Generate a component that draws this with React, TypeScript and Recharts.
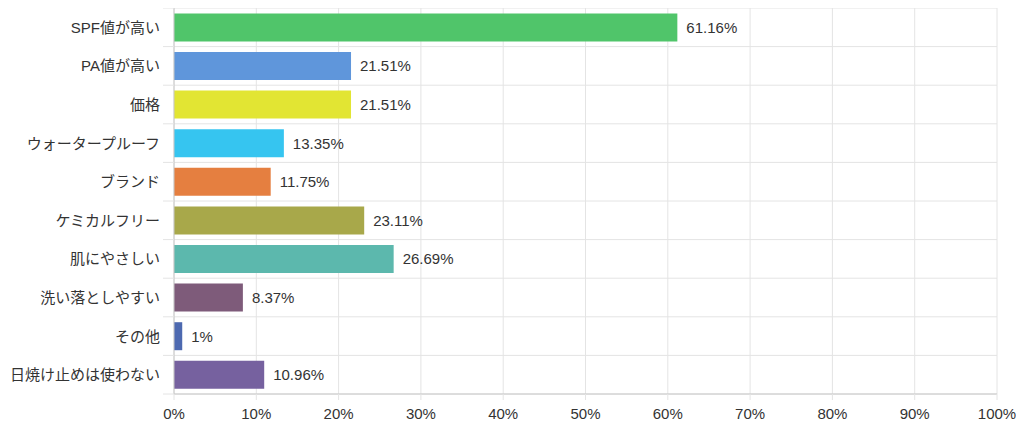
import React from 'react';
import { BarChart, Bar, XAxis, YAxis, CartesianGrid, Cell, LabelList } from 'recharts';

const categories = [
  'SPF値が高い',
  'PA値が高い',
  '価格',
  'ウォータープルーフ',
  'ブランド',
  'ケミカルフリー',
  '肌にやさしい',
  '洗い落としやすい',
  'その他',
  '日焼け止めは使わない',
];
const values = [61.16, 21.51, 21.51, 13.35, 11.75, 23.11, 26.69, 8.37, 1, 10.96];
const colors = [
  '#50c56a',
  '#5f96db',
  '#e2e533',
  '#36c5f0',
  '#e57f40',
  '#a8a84a',
  '#5cb8ad',
  '#7e5b7a',
  '#4d69b0',
  '#76619f',
];
const xTicks = [0, 10, 20, 30, 40, 50, 60, 70, 80, 90, 100];

const data = categories.map((name, i) => ({ name, value: values[i] }));

const W = 1024;
const H = 430;
const MARGIN = { top: 8, right: 27, bottom: 0, left: 0 };
const YAXIS_W = 174;
const XAXIS_H = 36;
const FONT = '"Liberation Sans", Arial, "Noto Sans CJK JP", sans-serif';
const GRID = '#e4e4e4';
const AXIS = '#c8c8c8';
const TEXT = '#333';
const FS = 15;

const plotHeight = H - MARGIN.top - MARGIN.bottom - XAXIS_H;
const band = plotHeight / categories.length;

const YTick = (props: any) => {
  const { x, y, payload, index, visibleTicksCount } = props;
  const plotLeft = MARGIN.left + YAXIS_W;
  const isLast = index === (visibleTicksCount ?? categories.length) - 1;
  return (
    <g>
      <line x1={plotLeft - 11} x2={plotLeft} y1={y - band / 2} y2={y - band / 2} stroke={GRID} />
      {isLast && (
        <line x1={plotLeft - 11} x2={plotLeft} y1={y + band / 2} y2={y + band / 2} stroke={GRID} />
      )}
      <text
        x={x}
        y={y}
        textAnchor="end"
        dominantBaseline="central"
        fill={TEXT}
        fontSize={FS}
        fontFamily={FONT}
      >
        {payload.value}
      </text>
    </g>
  );
};

export default function App() {
  return (
    <div style={{ marginLeft: -8, marginTop: -8, width: W, height: H, background: '#fff' }}>
      <BarChart
        width={W}
        height={H}
        data={data}
        layout="vertical"
        margin={MARGIN}
        barCategoryGap="14%"
      >
        <CartesianGrid
          stroke={GRID}
          horizontalCoordinatesGenerator={(p: any) => {
            const top = p.offset.top;
            const h = p.offset.height;
            return categories.map((_, i) => top + (i * h) / categories.length).concat([top + h]);
          }}
        />
        <XAxis
          type="number"
          domain={[0, 100]}
          ticks={xTicks}
          interval={0}
          height={XAXIS_H}
          tickFormatter={(v: number) => `${v}%`}
          axisLine={{ stroke: AXIS }}
          tickLine={{ stroke: GRID }}
          tickSize={6}
          tickMargin={8}
          tick={{ fill: TEXT, fontSize: FS, fontFamily: FONT }}
        />
        <YAxis
          type="category"
          dataKey="name"
          width={YAXIS_W}
          interval={0}
          axisLine={{ stroke: AXIS }}
          tickLine={false}
          tickSize={11}
          tickMargin={3}
          tick={<YTick />}
        />
        <Bar dataKey="value" isAnimationActive={false}>
          {data.map((d, i) => (
            <Cell key={d.name} fill={colors[i]} />
          ))}
          <LabelList
            dataKey="value"
            position="right"
            offset={9}
            formatter={(v: any) => `${v}%`}
            fill={TEXT}
            fontSize={FS}
            fontFamily={FONT}
          />
        </Bar>
      </BarChart>
    </div>
  );
}
